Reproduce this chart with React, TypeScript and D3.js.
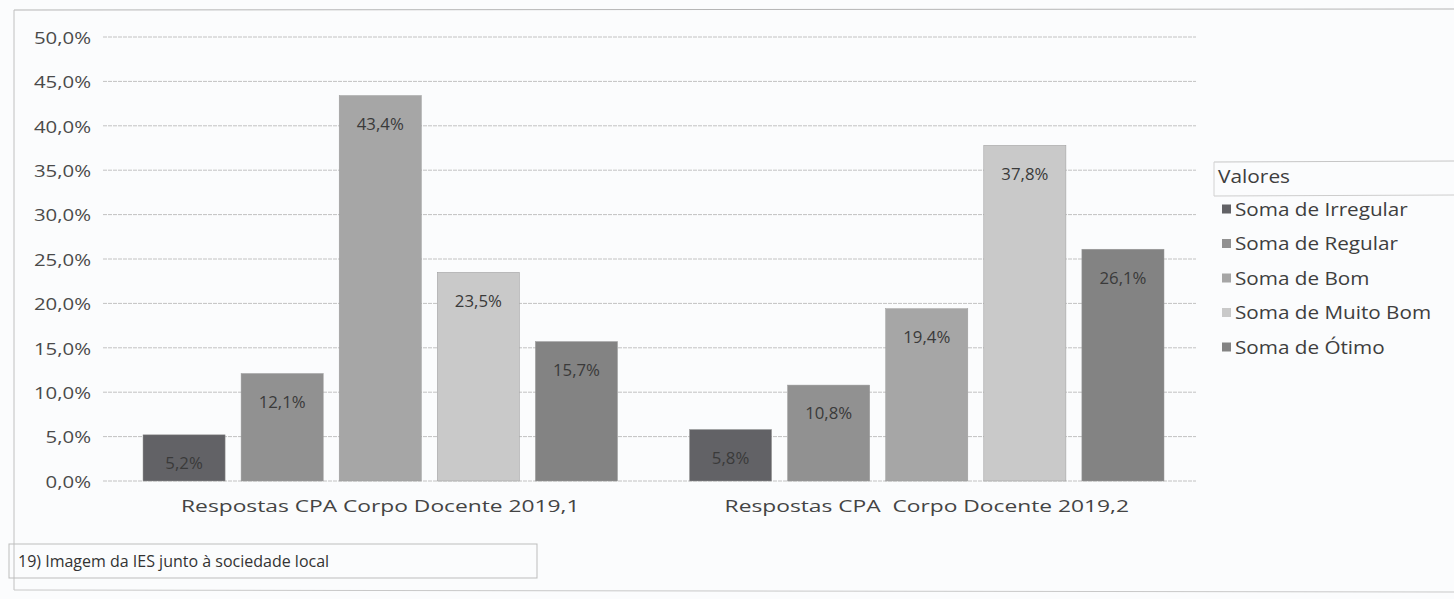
import React from "react";
import * as d3 from "d3";

const categories = ["Respostas CPA Corpo Docente 2019,1", "Respostas CPA  Corpo Docente 2019,2"];
const seriesNames = ["Soma de Irregular", "Soma de Regular", "Soma de Bom", "Soma de Muito Bom", "Soma de Ótimo"];
const values2019_1 = [5.2, 12.1, 43.4, 23.5, 15.7];
const values2019_2 = [5.8, 10.8, 19.4, 37.8, 26.1];
const seriesColors = ["#626266", "#919191", "#a6a6a6", "#c9c9c9", "#838383"];
const legendTitle = "Valores";
const footnote = "19) Imagem da IES junto à sociedade local";

const W = 1454;
const H = 599;
const FONT = "'Open Sans', 'Noto Sans', sans-serif";

function SText({ x, y, sx = 1, anchor = "start", size = 17, fill = "#454545", children }: any) {
  return (
    <text
      transform={`translate(${x},${y}) scale(${sx},1)`}
      textAnchor={anchor}
      dominantBaseline="central"
      fontFamily={FONT}
      fontSize={size}
      fill={fill}
      style={{ whiteSpace: "pre" }}
    >
      {children}
    </text>
  );
}

export default function App() {
  const data = [values2019_1, values2019_2];
  const y = d3.scaleLinear().domain([0, 50]).range([481, 37]);
  const x0 = d3.scaleBand<string>().domain(categories).range([107, 1200]).paddingInner(0).paddingOuter(0);
  const x1 = d3
    .scaleBand<string>()
    .domain(seriesNames)
    .range([0, x0.bandwidth()])
    .paddingInner(0.163)
    .paddingOuter(0.367);
  const ticks = y.ticks(10);
  const fmt = (v: number) => v.toFixed(1).replace(".", ",") + "%";
  const legendY = d3.scaleLinear().domain([0, 1]).range([209, 243.5]);

  return (
    <svg
      width={W}
      height={H}
      style={{ position: "absolute", left: 0, top: 0, background: "#fbfcfd" }}
    >
      <rect x={0} y={0} width={W} height={H} fill="#fbfcfd" />
      {/* outer frame */}
      <line x1={14} x2={W} y1={10} y2={9} stroke="#b5b5b5" strokeWidth={1} />
      <line x1={14} x2={14} y1={10} y2={590} stroke="#c0c0c0" strokeWidth={1} />
      <line x1={14} x2={W} y1={590} y2={592} stroke="#c8c8c8" strokeWidth={1} />

      {/* gridlines */}
      {ticks.map((t) => (
        <g key={t}>
          <line x1={103} x2={1196} y1={y(t)} y2={y(t)} stroke="#c2c2c2" strokeWidth={1} strokeDasharray="4,1" />
          <SText x={91} y={y(t)} sx={1.2} anchor="end" size={17} fill="#4a4a4a">
            {fmt(t)}
          </SText>
        </g>
      ))}

      {/* bars */}
      {categories.map((c, ci) => (
        <g key={c} transform={`translate(${x0(c)},0)`}>
          {seriesNames.map((s, si) => {
            const v = data[ci][si];
            const bx = x1(s)!;
            const top = y(v);
            return (
              <g key={s}>
                <rect
                  x={bx}
                  y={top}
                  width={x1.bandwidth()}
                  height={y(0) - top}
                  fill={seriesColors[si]}
                  stroke="#9a9a9a"
                  strokeWidth={0.5}
                />
                <SText x={bx + x1.bandwidth() / 2} y={top + 28} anchor="middle" sx={1.05} size={16} fill="#3a3a3a">
                  {fmt(v)}
                </SText>
              </g>
            );
          })}
          <SText x={x0.bandwidth() / 2} y={506} anchor="middle" sx={1.34} size={17} fill="#444">
            {c}
          </SText>
        </g>
      ))}

      {/* legend */}
      <line x1={1214} x2={W} y1={162} y2={161} stroke="#c6c6c6" strokeWidth={1} />
      <line x1={1214} x2={W} y1={196} y2={195} stroke="#cdcdcd" strokeWidth={1} />
      <line x1={1214} x2={1214} y1={162} y2={196} stroke="#d2d2d2" strokeWidth={1} />
      <SText x={1218} y={176} sx={1.16} size={18} fill="#3e3e3e">
        {legendTitle}
      </SText>
      {seriesNames.map((s, si) => (
        <g key={s}>
          <rect x={1222} y={legendY(si) - 4.5} width={9} height={9} fill={seriesColors[si]} />
          <SText x={1235} y={legendY(si)} sx={1.15} size={18} fill="#3e3e3e">
            {s}
          </SText>
        </g>
      ))}

      {/* footnote box */}
      <rect x={9} y={544} width={528} height={34} fill="none" stroke="#bdbdbd" strokeWidth={1} />
      <SText x={18} y={561} sx={1.0} size={16} fill="#333">
        {footnote}
      </SText>
    </svg>
  );
}
